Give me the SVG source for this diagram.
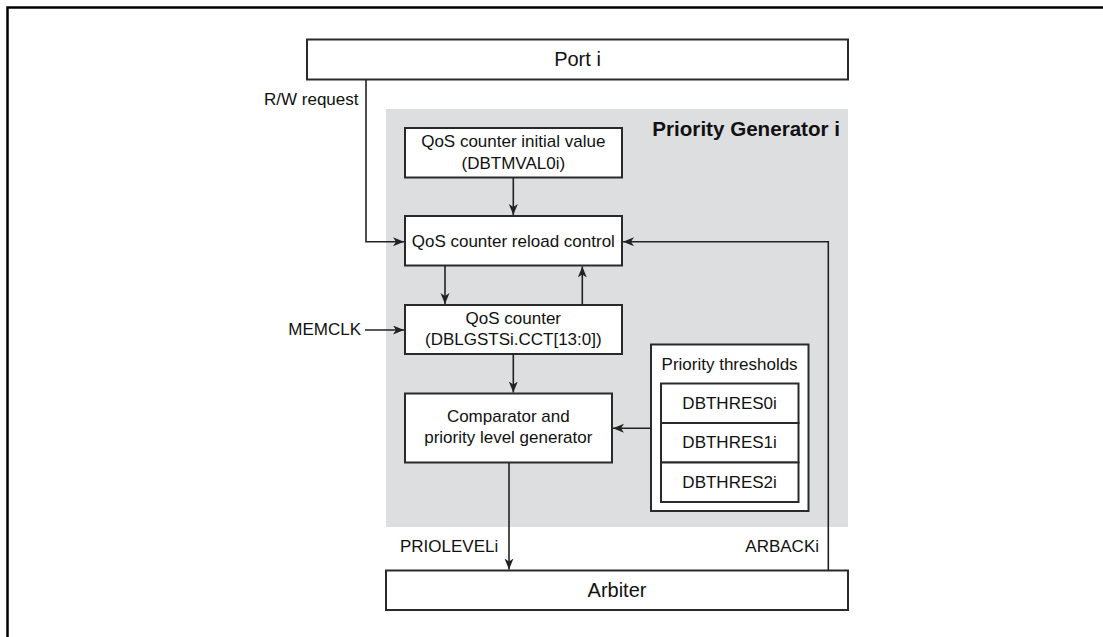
<svg xmlns="http://www.w3.org/2000/svg" width="1103" height="637" viewBox="0 0 1103 637">
<defs>
<marker id="ah" markerWidth="12" markerHeight="10" refX="11" refY="4.5" orient="auto" markerUnits="userSpaceOnUse">
<path d="M0,0 L11,4.5 L0,9 L3,4.5 z" fill="#222"/>
</marker>
<style>
.box{fill:#fff;stroke:#2a2a2a;stroke-width:2}
.t{font-family:"Liberation Sans",Arial,sans-serif;font-size:17px;fill:#111;text-anchor:middle}
.big{font-size:20px}
.l{text-anchor:start}
.r{text-anchor:end}
.b{font-weight:bold;font-size:20.6px}
.c{fill:none;stroke:#222;stroke-width:1.6}
</style>
</defs>
<rect width="1103" height="637" fill="#fff"/>
<path d="M7.5,637 V7.5 H1103" fill="none" stroke="#000" stroke-width="2.5"/>
<g id="priority-generator">
<rect x="386" y="109" width="462" height="418" fill="#dddee0"/>
<text class="t b r" x="840" y="136">Priority Generator i</text>
</g>
<g id="port">
<rect class="box" x="307" y="39.5" width="541" height="40"/>
<text class="t big" x="577.5" y="66">Port i</text>
</g>
<g id="initial-value">
<rect class="box" x="405" y="128" width="217" height="49.5"/>
<text class="t" x="513.3" y="147">QoS counter initial value</text>
<text class="t" x="513.3" y="168.5">(DBTMVAL0i)</text>
</g>
<g id="reload-control">
<rect class="box" x="405" y="216" width="217" height="49.5"/>
<text class="t" x="513.3" y="246.5">QoS counter reload control</text>
</g>
<g id="qos-counter">
<rect class="box" x="405" y="305" width="217" height="49"/>
<text class="t" x="513.3" y="324">QoS counter</text>
<text class="t" x="513.3" y="345">(DBLGSTSi.CCT[13:0])</text>
</g>
<g id="comparator">
<rect class="box" x="405" y="393.5" width="207" height="69"/>
<text class="t" x="508.3" y="422">Comparator and</text>
<text class="t" x="508.3" y="443">priority level generator</text>
</g>
<g id="thresholds">
<rect class="box" x="651" y="344.5" width="157.5" height="166.5"/>
<text class="t" x="729.6" y="369.5">Priority thresholds</text>
<rect class="box" x="661" y="383.5" width="137.5" height="39.5"/>
<text class="t" x="729.6" y="409">DBTHRES0i</text>
<rect class="box" x="661" y="423" width="137.5" height="39.5"/>
<text class="t" x="729.6" y="448">DBTHRES1i</text>
<rect class="box" x="661" y="462.5" width="137.5" height="39.5"/>
<text class="t" x="729.6" y="487.5">DBTHRES2i</text>
</g>
<g id="arbiter">
<rect class="box" x="386" y="570.5" width="462" height="39.5"/>
<text class="t big" x="617" y="597">Arbiter</text>
</g>
<g id="connectors">
<path class="c" d="M366,79.5 V241.7 H404" marker-end="url(#ah)"/>
<path class="c" d="M513.3,177.5 V215" marker-end="url(#ah)"/>
<path class="c" d="M445,265.5 V304" marker-end="url(#ah)"/>
<path class="c" d="M582.3,305 V266.5" marker-end="url(#ah)"/>
<path class="c" d="M365,330 H404" marker-end="url(#ah)"/>
<path class="c" d="M513.3,354 V392.5" marker-end="url(#ah)"/>
<path class="c" d="M651,428.3 H613" marker-end="url(#ah)"/>
<path class="c" d="M509,462.5 V569.5" marker-end="url(#ah)"/>
<path class="c" d="M828.3,570.5 V241.7 H623" stroke="#444" stroke-width="2" marker-end="url(#ah)"/>
<text class="t r" x="358.5" y="104.5">R/W request</text>
<text class="t r" x="361" y="334.5">MEMCLK</text>
<text class="t l" x="400" y="552">PRIOLEVELi</text>
<text class="t r" x="819" y="552">ARBACKi</text>
</g>
</svg>
